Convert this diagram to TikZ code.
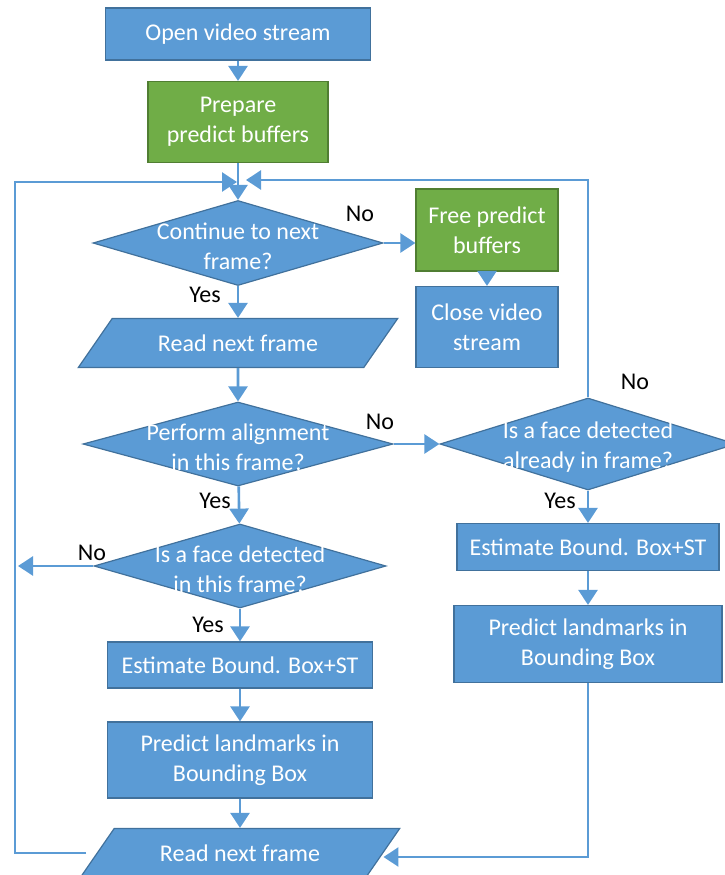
\documentclass[tikz,border=0pt]{standalone}
\usepackage{fontspec}
\setmainfont{Carlito}
\usetikzlibrary{shapes.geometric,arrows.meta}
\definecolor{boxblue}{HTML}{5B9BD5}
\definecolor{boxedge}{HTML}{41719C}
\definecolor{boxgreen}{HTML}{70AD47}
\definecolor{greenedge}{HTML}{507E32}
\definecolor{linkblue}{HTML}{5B9BD5}
\begin{document}
\begin{tikzpicture}[x=1pt,y=-1pt,font=\fontsize{24}{30}\selectfont,
	process/.style={rectangle,draw=boxedge,line width=1.2pt,fill=boxblue,text=white,align=center,inner sep=0pt},
	greenbox/.style={process,draw=greenedge,fill=boxgreen},
	decision/.style={diamond,draw=boxedge,line width=1.2pt,fill=boxblue,inner sep=0pt},
	dtext/.style={text=white,align=center,inner sep=0pt,yshift=-3pt},
	io/.style={trapezium,trapezium left angle=38,trapezium right angle=142,trapezium stretches=true,
		draw=boxedge,line width=1.2pt,fill=boxblue,text=white,inner sep=0pt,minimum width=320pt,minimum height=49pt},
	link/.style={draw=linkblue,line width=2.6pt,-{Triangle[width=19pt,length=15pt]}},
	lbl/.style={text=black,inner sep=0pt}]
		\useasboundingbox (0,0) rectangle (725,875);
		% main column
		\node[process,minimum width=265pt,minimum height=52pt] (open) at (238,34) {Open video stream};
		\node[greenbox,minimum width=180pt,minimum height=81pt] (prepbuf) at (238,122) {Prepare\\predict buffers};
		\node[decision,minimum width=290pt,minimum height=85pt,label={[dtext]center:Continue to next\\frame?}] (cont) at (238,243) {};
		\node[io] (read1) at (238,343) {Read next frame};
		\node[decision,minimum width=310pt,minimum height=84pt,label={[dtext]center:Perform alignment\\in this frame?}] (align) at (238,444) {};
		\node[decision,minimum width=292pt,minimum height=84pt,label={[dtext]center:Is a face detected\\in this frame?}] (face1) at (240,566) {};
		\node[process,minimum width=265pt,minimum height=46pt] (est1) at (240,665) {Estimate Bound. Box+ST};
		\node[process,minimum width=265pt,minimum height=76pt] (pred1) at (240,760) {Predict landmarks in\\Bounding Box};
		\node[io] (read2) at (240,853) {Read next frame};
		% right column
		\node[greenbox,minimum width=142pt,minimum height=82pt] (freebuf) at (487,230) {Free predict\\buffers};
		\node[process,minimum width=142pt,minimum height=81pt] (close) at (487,327) {Close video\\stream};
		\node[decision,minimum width=296pt,minimum height=92pt,label={[dtext]center:Is a face detected\\already in frame?}] (face2) at (588,444) {};
		\node[process,minimum width=262pt,minimum height=47pt] (est2) at (588,547) {Estimate Bound. Box+ST};
		\node[process,minimum width=268pt,minimum height=77pt] (pred2) at (588,644) {Predict landmarks in\\Bounding Box};
		% branch labels
		\node[lbl] (no1) at (360,214) {No};
		\node[lbl] (yes1) at (205,295) {Yes};
		\node[lbl] (no2) at (380,422) {No};
		\node[lbl] (no3) at (635,382) {No};
		\node[lbl] (yes2) at (215,501) {Yes};
		\node[lbl] (yes3) at (560,501) {Yes};
		\node[lbl] (no4) at (92,553) {No};
		\node[lbl] (yes4) at (208,625) {Yes};
		% loop corners
		\coordinate (merge) at (237,182);
		\coordinate (lcorner) at (15,182);
		\coordinate (lstart) at (86,853);
		\coordinate (rtop) at (588,180);
		% connectors
		\draw[link] (open) -- (prepbuf);
		\draw[link] (prepbuf) -- (cont);
		\draw[link] (cont.east) -- (cont.east -| freebuf.west);
		\draw[link] (freebuf) -- (close);
		\draw[link] (cont) -- (read1);
		\draw[link] (read1) -- (align);
		\draw[link] (align.east) -- (face2.west);
		\draw[link] (align) -- (face1);
		\draw[link] (face1.west) -- ([xshift=3pt]face1.west -| lcorner);
		\draw[link] (face1) -- (face1 |- est1.north);
		\draw[link] (est1) -- (pred1);
		\draw[link] (pred1) -- (read2);
		\draw[link] (face2) -- (est2);
		\draw[link] (est2) -- (pred2);
		\draw[link] (pred2.south) |- ([yshift=-4pt]read2.east);
		\draw[link] (lstart) -- (lstart -| lcorner) -- (lcorner) -- (merge);
		\draw[link] (face2.north) -- (rtop) -- ([xshift=9pt]rtop -| merge);
\end{tikzpicture}
\end{document}
